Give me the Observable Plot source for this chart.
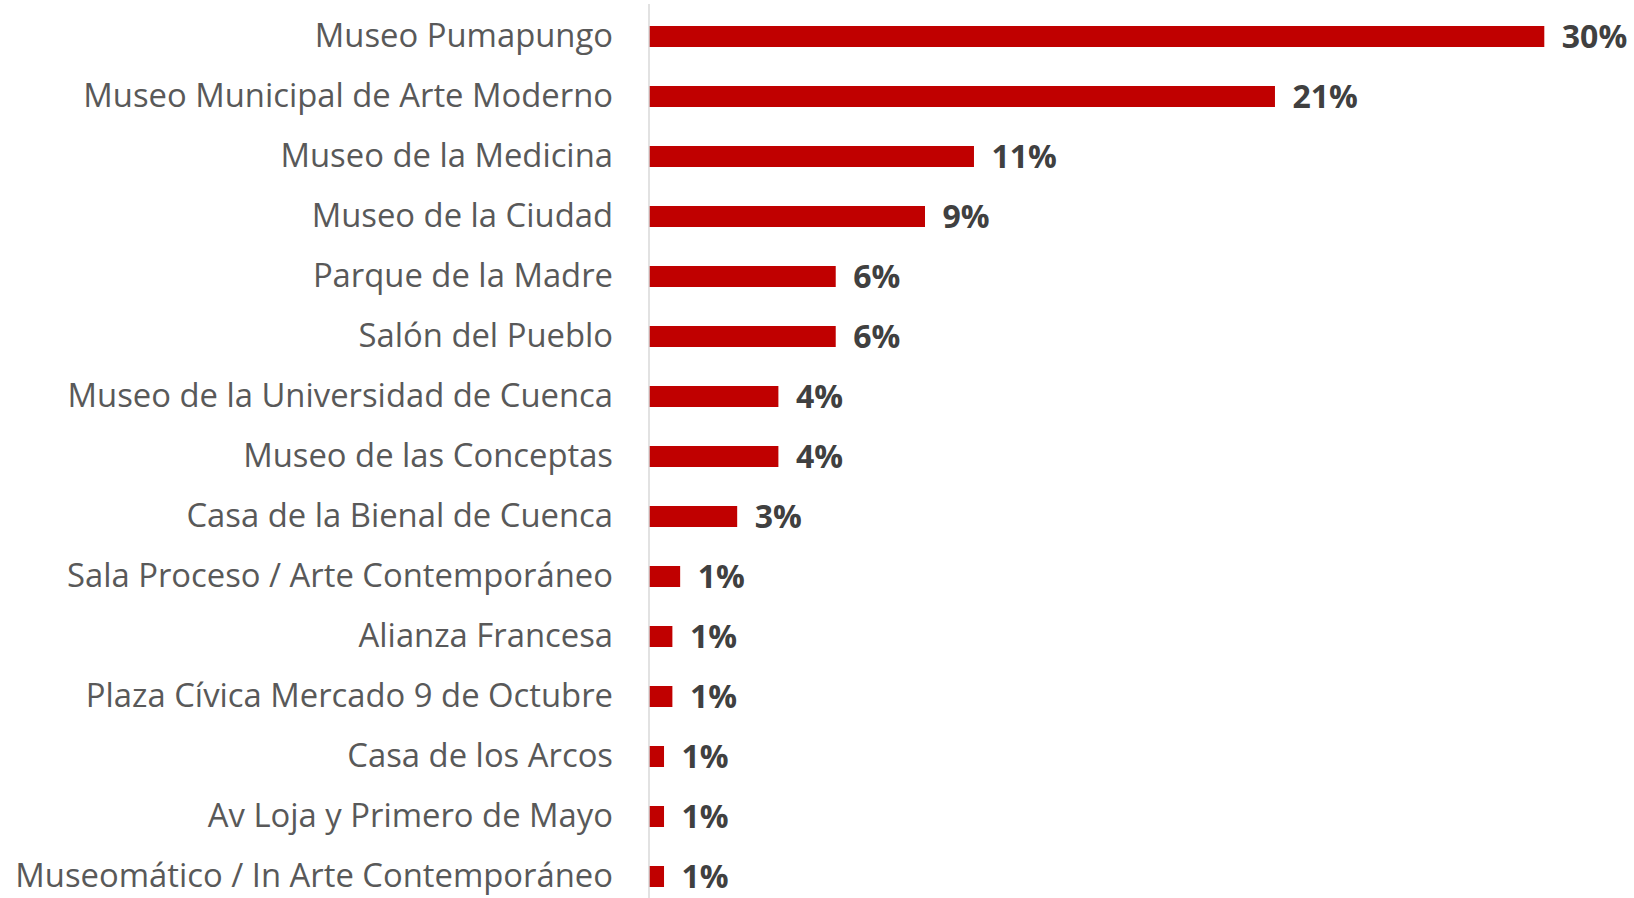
<!DOCTYPE html>
<html>
<head>
<meta charset="utf-8">
<script src="https://cdn.jsdelivr.net/npm/d3@7"></script>
<script src="https://cdn.jsdelivr.net/npm/@observablehq/plot@0.6"></script>
<style>
  html, body { margin: 0; padding: 0; background: #ffffff; }
  #chart { width: 1634px; height: 898px; }
</style>
</head>
<body>
<div id="chart"></div>
<script>
const categories = [
  "Museo Pumapungo",
  "Museo Municipal de Arte Moderno",
  "Museo de la Medicina",
  "Museo de la Ciudad",
  "Parque de la Madre",
  "Salón del Pueblo",
  "Museo de la Universidad de Cuenca",
  "Museo de las Conceptas",
  "Casa de la Bienal de Cuenca",
  "Sala Proceso / Arte Contemporáneo",
  "Alianza Francesa",
  "Plaza Cívica Mercado 9 de Octubre",
  "Casa de los Arcos",
  "Av Loja y Primero de Mayo",
  "Museomático / In Arte Contemporáneo"
];
const values = [30.0, 20.98, 10.9, 9.26, 6.27, 6.27, 4.35, 4.35, 2.97, 1.06, 0.80, 0.80, 0.52, 0.52, 0.52];
const valueLabels = ["30%", "21%", "11%", "9%", "6%", "6%", "4%", "4%", "3%", "1%", "1%", "1%", "1%", "1%", "1%"];

const data = categories.map((c, i) => ({category: c, value: values[i], label: valueLabels[i]}));

const chart = Plot.plot({
  width: 1634,
  height: 898,
  marginLeft: 648.5,
  marginRight: 89.7,
  marginTop: 4,
  marginBottom: 0,
  style: {fontFamily: "'Open Sans', sans-serif", color: "#595959", background: "#ffffff"},
  x: {domain: [0, 30], axis: null},
  y: {domain: categories, paddingInner: 0.651, paddingOuter: 0.256, align: 0.68, label: null},
  marks: [
    Plot.axisY({tickSize: 0, tickPadding: 36, fontSize: 32.8, label: null, dy: -1}),
    Plot.barX(data, {x: "value", y: "category", fill: "#c00000", insetLeft: 0.5}),
    Plot.ruleX([0], {stroke: "#d9d9d9", strokeWidth: 1.5}),
    Plot.text(data, {x: "value", y: "category", text: "label", dx: 17, textAnchor: "start", fill: "#404040", fontWeight: "bold", fontSize: 32, dy: 1})
  ]
});
document.getElementById("chart").appendChild(chart);
</script>
</body>
</html>
